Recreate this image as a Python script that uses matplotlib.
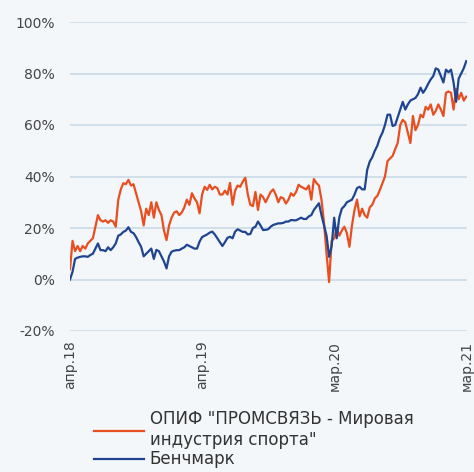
import matplotlib.pyplot as plt
import pandas as pd

# weekly points, values in %
start_date = "2018-04-02"
n_weeks = 157

fund = [4, 15, 11, 13, 11, 13, 12, 14, 15, 16,
        20.5, 25, 23, 22.5, 23, 22, 23, 22.5, 20.5, 31,
        35, 37.4, 37, 38.7, 36.5, 37, 33.5, 30, 26.5, 21,
        27.5, 25, 30, 24, 30, 27, 25, 19, 15.3, 21,
        24, 26, 26.5, 25, 26, 28, 31, 29, 33.5, 31.5,
        30, 25.7, 33, 36, 34.8, 36.8, 35, 36, 35.5, 33,
        33, 34.5, 33, 37.5, 29, 34.5, 36.5, 36, 38, 39.5,
        33, 29, 28.5, 34, 27, 33, 32, 30, 32, 34,
        35, 33, 30, 32, 31.5, 29.5, 31, 33.5, 32.5, 34,
        36.8, 36, 35.5, 35, 36.5, 31, 39, 37.5, 36.5, 31,
        22, 10, -1, 15, 16, 20, 17, 19, 20.5, 18,
        12.7, 21, 27, 31, 24.5, 27.5, 25, 24, 28, 29,
        31.5, 32.5, 34.8, 37.4, 40, 46, 47, 48, 50.6, 53,
        60, 62, 61, 57, 53, 63.5, 58, 60, 64, 63,
        67, 66, 68, 64, 65.5, 68, 66, 63.5, 72.5, 73,
        72.5, 66, 74, 70, 72.5, 69.5, 71]

bench = [0, 3, 8, 8.5, 8.8, 9, 9, 8.8, 9.5, 10,
         12, 14, 11.4, 11.4, 11, 12.5, 11.4, 12.5, 14, 17,
         17.5, 18.5, 19, 20.3, 18.5, 18, 16.5, 14.5, 12.7, 9,
         10, 11, 12, 8, 11.5, 11, 9, 7, 4.3, 9,
         10.8, 11.2, 11.4, 11.4, 12, 12.5, 13.5, 13, 12.5, 12,
         12, 14.7, 16.5, 17, 17.5, 18.2, 18.6, 17.5, 16, 14.5,
         13, 14.5, 16.2, 16.6, 16, 18.6, 19.5, 19, 18.5, 18.5,
         17.5, 17.7, 20, 20.5, 22.5, 21, 19.2, 19.3, 19.5, 20.5,
         21.2, 21.5, 21.8, 21.8, 22, 22.5, 22.5, 23.1, 23, 23,
         23.5, 24, 23.5, 23.5, 24.5, 25, 27, 28.3, 29.6, 25,
         21, 17, 8.8, 13, 24, 16, 24, 27.5, 28.5, 30,
         30.5, 31, 33, 35.5, 36, 35, 35, 42.6, 45.8, 47.5,
         50, 52, 55, 57, 60, 64, 64, 59.6, 60, 63,
         66, 69, 66, 68, 69.5, 70, 70.5, 72, 74.5, 72.5,
         74, 76, 77.7, 79, 82, 81.5, 79, 76.5, 81.5, 80.5,
         81.5, 76.5, 69, 78, 80, 82, 84.8]

tick_dates = ["2018-04-02", "2019-04-01", "2020-03-31", "2021-03-31"]
tick_labels = ["апр.18", "апр.19", "мар.20", "мар.21"]
y_ticks = [-20, 0, 20, 40, 60, 80, 100]

fund_label = 'ОПИФ "ПРОМСВЯЗЬ - Мировая\nиндустрия спорта"'
bench_label = "Бенчмарк"

bg = "#f3f7fa"
orange = "#e84e1f"
blue = "#1f4590"
grid_c = "#cddde8"
text_c = "#444444"

plt.rcParams["font.family"] = ["DejaVu Sans"]

dates = pd.date_range(start_date, periods=n_weeks, freq="7D")

fig = plt.figure(figsize=(4.74, 4.72), dpi=100, facecolor=bg)
ax = fig.add_axes([70 / 474, 1 - 331 / 472, 397 / 474, 309 / 472])
ax.set_facecolor(bg)

ax.plot(dates, fund, color=orange, lw=1.6, label=fund_label, zorder=3)
ax.plot(dates, bench, color=blue, lw=1.6, label=bench_label, zorder=4)

ax.set_ylim(-20, 100)
ax.set_yticks(y_ticks)
ax.set_yticklabels([f"{v}%" for v in y_ticks])
ax.set_xlim(pd.Timestamp(tick_dates[0]), pd.Timestamp(tick_dates[-1]))
ax.set_xticks([pd.Timestamp(d) for d in tick_dates])
ax.set_xticklabels(tick_labels, rotation=90)
ax.grid(axis="y", color=grid_c, lw=1.3)
ax.set_axisbelow(True)
for s in ax.spines.values():
    s.set_visible(False)
ax.tick_params(axis="both", length=0, colors=text_c, labelsize=10)
ax.tick_params(axis="y", pad=11)
ax.tick_params(axis="x", pad=7)

fig.legend(loc="upper left", bbox_to_anchor=(84 / 474, 1 - 400 / 472),
           frameon=False, fontsize=12, handlelength=3.0, handletextpad=0.35,
           labelspacing=0.1, labelcolor="#333333", borderaxespad=0.2)

fig.savefig("out.png", dpi=100, facecolor=bg)
